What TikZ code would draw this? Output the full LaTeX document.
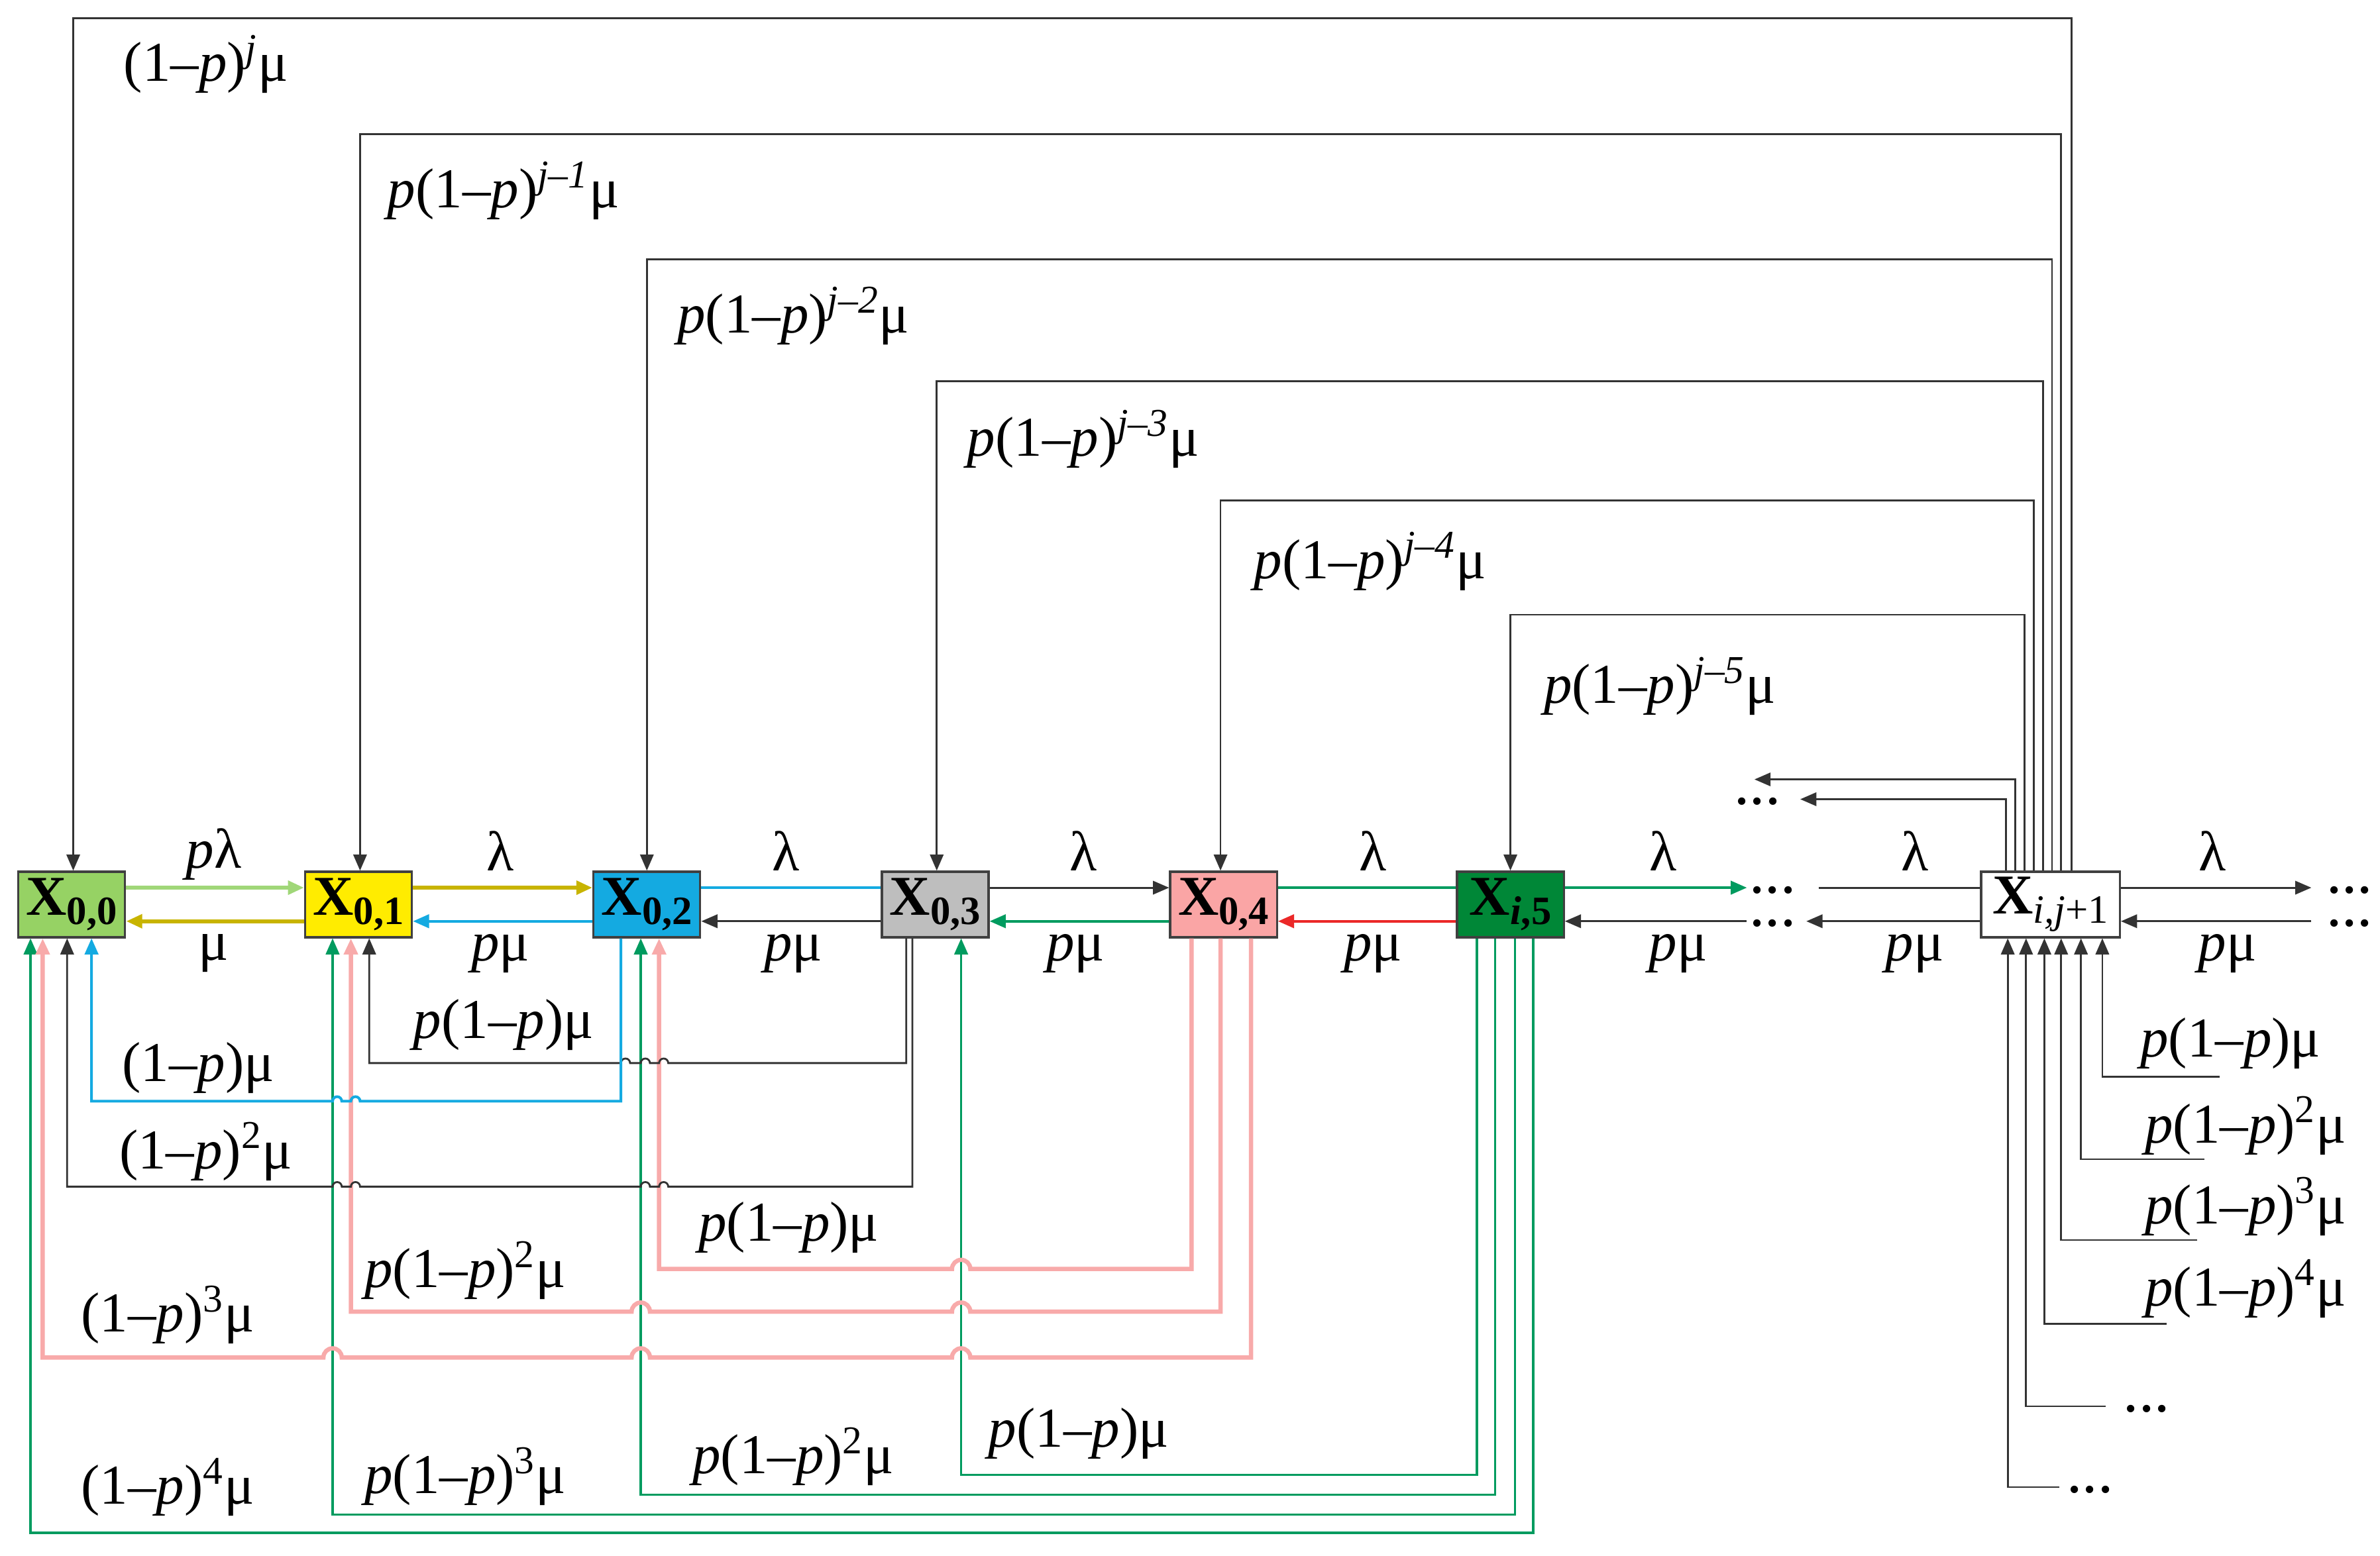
\documentclass[tikz,border=0pt]{standalone}
\usepackage{fontspec}
\setmainfont{Liberation Serif}
\usetikzlibrary{calc,arrows.meta}
\definecolor{cA}{RGB}{150,210,100}
\definecolor{cY}{RGB}{255,236,0}
\definecolor{cB}{RGB}{20,170,225}
\definecolor{cG}{RGB}{190,190,190}
\definecolor{cP}{RGB}{250,165,165}
\definecolor{cD}{RGB}{0,135,55}
\definecolor{lP}{RGB}{248,170,170}
\definecolor{lG}{RGB}{0,155,95}
\definecolor{lR}{RGB}{235,40,40}
\definecolor{lA}{RGB}{160,215,120}
\definecolor{lY}{RGB}{200,180,0}
\newcommand\pI{\textit{p}}
\newcommand\om{(1\textendash\pI)}
\newcommand\sx[1]{\textsuperscript{\textit{#1}}}
\newcommand\Xs[1]{\textbf{X}\raisebox{-0.35ex}{\fontsize{15}{15}\selectfont\textbf{#1}}}
\newcommand\dd{\textbf{.\kern1.5pt.\kern1.5pt.}}
\begin{document}
\begin{tikzpicture}[x=0.02cm,y=-0.02cm,
  box/.style={draw=black!75,line width=0.8pt,minimum width=1.4cm,minimum height=0.86cm,inner sep=0pt,font=\fontsize{21}{21}\selectfont},
  ln/.style={line width=0.7pt,draw=black!80},
  arr/.style={-{Triangle[length=6pt,width=5pt]}},
  pk/.style={line width=1.6pt,draw=lP},
  gr/.style={line width=0.9pt,draw=lG},
  lab/.style={font=\fontsize{21}{23}\selectfont,inner sep=0pt},
  dts/.style={font=\fontsize{17}{17}\selectfont,inner sep=0pt,anchor=base,yshift=-2pt}]
\useasboundingbox (0,0) rectangle (1560,1020);
% boxes
\node[box,fill=cA] (b0) at (47,593) {\Xs{0,0}};
\node[box,fill=cY] (b1) at (235,593) {\Xs{0,1}};
\node[box,fill=cB] (b2) at (424,593) {\Xs{0,2}};
\node[box,fill=cG] (b3) at (613,593) {\Xs{0,3}};
\node[box,fill=cP] (b4) at (802,593) {\Xs{0,4}};
\node[box,fill=cD] (b5) at (990,593) {\Xs{\textit{i},5}};
\node[box,fill=white,minimum width=1.82cm] (bj) at (1344,593) {\textbf{X}\raisebox{-0.35ex}{\fontsize{15}{15}\selectfont\textit{i,j}+1}};
% dots
\node[dts] (d1) at (1162,582) {\dd};
\node[dts] (d2) at (1162,604) {\dd};
\node[dts] (d3) at (1540,582) {\dd};
\node[dts] (d4) at (1540,604) {\dd};
\node[dts] (d5) at (1152,524) {\dd};
% horizontal chain
\draw[line width=1.6pt,draw=lA,arr] ($(b0.east)+(0,-11)$) -- ($(b1.west)+(0,-11)$);
\draw[line width=1.6pt,draw=lY,arr] ($(b1.west)+(0,11)$) -- ($(b0.east)+(0,11)$);
\draw[line width=1.6pt,draw=lY,arr] ($(b1.east)+(0,-11)$) -- ($(b2.west)+(0,-11)$);
\draw[ln,draw=cB,line width=1pt,arr] ($(b2.west)+(0,11)$) -- ($(b1.east)+(0,11)$);
\draw[ln,draw=cB,line width=1pt] ($(b2.east)+(0,-11)$) -- ($(b3.west)+(0,-11)$);
\draw[ln,arr] ($(b3.west)+(0,11)$) -- ($(b2.east)+(0,11)$);
\draw[ln,arr] ($(b3.east)+(0,-11)$) -- ($(b4.west)+(0,-11)$);
\draw[gr,arr] ($(b4.west)+(0,11)$) -- ($(b3.east)+(0,11)$);
\draw[gr] ($(b4.east)+(0,-11)$) -- ($(b5.west)+(0,-11)$);
\draw[line width=1pt,draw=lR,arr] ($(b5.west)+(0,11)$) -- ($(b4.east)+(0,11)$);
\draw[gr,arr] ($(b5.east)+(0,-11)$) -- (1145,582);
\draw[ln,arr] (1145,604) -- ($(b5.east)+(0,11)$);
\draw[ln] (1192,582) -- ($(bj.west)+(0,-11)$);
\draw[ln,arr] ($(bj.west)+(0,11)$) -- (1184,604);
\draw[ln,arr] ($(bj.east)+(0,-11)$) -- (1515,582);
\draw[ln,arr] (1515,604) -- ($(bj.east)+(0,11)$);
% chain labels
\node[lab] (l1) at (140,560) {\pI λ};
\node[lab] (l2) at (140,625) {μ};
\node[lab] (l3) at (328,558) {λ};
\node[lab] (l4) at (328,625) {\pI μ};
\node[lab] (l5) at (515,558) {λ};
\node[lab] (l6) at (520,625) {\pI μ};
\node[lab] (l7) at (710,558) {λ};
\node[lab] (l8) at (705,625) {\pI μ};
\node[lab] (l9) at (900,558) {λ};
\node[lab] (l10) at (900,625) {\pI μ};
\node[lab] (l11) at (1090,558) {λ};
\node[lab] (l12) at (1100,625) {\pI μ};
\node[lab] (l13) at (1255,558) {λ};
\node[lab] (l14) at (1255,625) {\pI μ};
\node[lab] (l15) at (1450,558) {λ};
\node[lab] (l16) at (1460,625) {\pI μ};
% top loops
\draw[ln,arr] ($(bj.north)+(14,0)$) |- (48,12) -- ($(b0.north)+(1,0)$);
\draw[ln,arr] ($(bj.north)+(7,0)$) |- (236,88) -- ($(b1.north)+(1,0)$);
\draw[ln,arr] ($(bj.north)+(1,0)$) |- (424,170) -- (b2.north);
\draw[ln,arr] ($(bj.north)+(-5,0)$) |- (614,250) -- ($(b3.north)+(1,0)$);
\draw[ln,arr] ($(bj.north)+(-11,0)$) |- (800,328) -- ($(b4.north)+(-2,0)$);
\draw[ln,arr] ($(bj.north)+(-17,0)$) |- (990,403) -- (b5.north);
\draw[ln,arr] ($(bj.north)+(-23,0)$) |- (1150,511);
\draw[ln,arr] ($(bj.north)+(-29,0)$) |- (1180,524);
\node[lab] (t0) at (135,42) {\om\sx{j}μ};
\node[lab] (t1) at (330,125) {\pI\om\sx{j\textendash1}μ};
\node[lab] (t2) at (520,207) {\pI\om\sx{j\textendash2}μ};
\node[lab] (t3) at (710,288) {\pI\om\sx{j\textendash3}μ};
\node[lab] (t4) at (898,368) {\pI\om\sx{j\textendash4}μ};
\node[lab] (t5) at (1088,450) {\pI\om\sx{j\textendash5}μ};
% bottom right inputs of bj
\coordinate (s1) at (1455,706);
\coordinate (s2) at (1445,760);
\coordinate (s3) at (1440,813);
\coordinate (s4) at (1420,868);
\coordinate (s5) at (1380,922);
\coordinate (s6) at (1350,975);
\draw[ln,arr] (s1) -| ($(bj.south)+(34,0)$);
\draw[ln,arr] (s2) -| ($(bj.south)+(20,0)$);
\draw[ln,arr] (s3) -| ($(bj.south)+(7,0)$);
\draw[ln,arr] (s4) -| ($(bj.south)+(-4,0)$);
\draw[ln,arr] (s5) -| ($(bj.south)+(-16,0)$);
\draw[ln,arr] (s6) -| ($(bj.south)+(-28,0)$);
\node[lab] (r1) at (1462,684) {\pI\om μ};
\node[lab] (r2) at (1472,738) {\pI\om\textsuperscript{2}μ};
\node[lab] (r3) at (1472,791) {\pI\om\textsuperscript{3}μ};
\node[lab] (r4) at (1472,845) {\pI\om\textsuperscript{4}μ};
\node[dts] (r5) at (1407,922) {\dd};
\node[dts] (r6) at (1370,975) {\dd};
% bottom loops
\draw[gr,arr] ($(b5.south)+(-22,0)$) |- (630,967) -- ($(b3.south)+(17,0)$);
\draw[gr,arr] ($(b5.south)+(-10,0)$) |- (420,980) -- ($(b2.south)+(-4,0)$);
\draw[gr,arr] ($(b5.south)+(3,0)$) |- (218,993) -- ($(b1.south)+(-17,0)$);
\draw[gr,arr] ($(b5.south)+(15,0)$) |- (20,1005) -- ($(b0.south)+(-27,0)$);
\draw[pk,arr] ($(b4.south)+(-21,0)$) -- (781,832) -- (636,832) arc (0:-180:6) -- (432,832) -- ($(b2.south)+(8,0)$);
\draw[pk,arr] ($(b4.south)+(-2,0)$) -- (800,860) -- (636,860) arc (0:-180:6) -- (426,860) arc (0:-180:6) -- (230,860) -- ($(b1.south)+(-5,0)$);
\draw[pk,arr] ($(b4.south)+(18,0)$) -- (820,890) -- (636,890) arc (0:-180:6) -- (426,890) arc (0:-180:6) -- (224,890) arc (0:-180:6) -- (28,890) -- ($(b0.south)+(-19,0)$);
\draw[ln,arr] ($(b3.south)+(-19,0)$) -- (594,697) -- (438,697) arc (0:-180:3) -- (426,697) arc (0:-180:3) -- (413,697) arc (0:-180:3) -- (242,697) -- ($(b1.south)+(7,0)$);
\draw[ln,draw=cB,line width=1pt,arr] ($(b2.south)+(-17,0)$) -- (407,722) -- (236,722) arc (0:-180:3) -- (224,722) arc (0:-180:3) -- (60,722) -- ($(b0.south)+(13,0)$);
\draw[ln,arr] ($(b3.south)+(-15,0)$) -- (598,778) -- (438,778) arc (0:-180:3) -- (426,778) arc (0:-180:3) -- (236,778) arc (0:-180:3) -- (224,778) arc (0:-180:3) -- (44,778) -- ($(b0.south)+(-3,0)$);
\node[lab] (u1) at (330,672) {\pI\om μ};
\node[lab] (u2) at (130,700) {\om μ};
\node[lab] (u3) at (135,755) {\om\textsuperscript{2}μ};
\node[lab] (u4) at (517,805) {\pI\om μ};
\node[lab] (u5) at (305,833) {\pI\om\textsuperscript{2}μ};
\node[lab] (u6) at (110,862) {\om\textsuperscript{3}μ};
\node[lab] (u7) at (707,940) {\pI\om μ};
\node[lab] (u8) at (520,955) {\pI\om\textsuperscript{2}μ};
\node[lab] (u9) at (305,968) {\pI\om\textsuperscript{3}μ};
\node[lab] (u10) at (110,975) {\om\textsuperscript{4}μ};
\end{tikzpicture}
\end{document}
